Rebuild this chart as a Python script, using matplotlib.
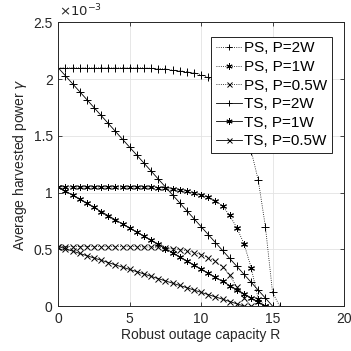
import matplotlib
matplotlib.use("Agg")
import matplotlib.pyplot as plt
import numpy as np

plt.rcParams['font.family'] = ['Liberation Sans', 'DejaVu Sans']

# robust outage capacity grid (step 0.5) and harvested power (x1e-3)
r_ps2 = np.arange(0, 15.51, 0.5)
ps_2w = [2.10, 2.10, 2.10, 2.10, 2.10, 2.10, 2.10, 2.10, 2.10, 2.10, 2.10, 2.10, 2.10,
         2.097, 2.094, 2.09, 2.08, 2.075, 2.065, 2.055, 2.04, 2.015, 1.97, 1.91, 1.83,
         1.71, 1.56, 1.37, 1.11, 0.70, 0.12, 0.0]

r_ps1 = np.arange(0, 14.51, 0.5)
ps_1w = [1.05] * 14 + [1.045, 1.04, 1.03, 1.02, 1.01, 0.995, 0.98, 0.96, 0.93, 0.88,
                       0.80, 0.69, 0.55, 0.34, 0.06, 0.0]

r_ps05 = np.arange(0, 13.51, 0.5)
ps_05w = [0.525] * 11 + [0.524, 0.522, 0.52, 0.517, 0.513, 0.507, 0.498, 0.487, 0.472,
                         0.453, 0.428, 0.393, 0.345, 0.27, 0.17, 0.07, 0.0]

r_ts2 = np.arange(0, 15.01, 0.5)
ts_2w = [2.10, 2.03, 1.96, 1.89, 1.82, 1.75, 1.68, 1.61, 1.54, 1.47, 1.40, 1.33, 1.26,
         1.19, 1.12, 1.05, 0.98, 0.91, 0.84, 0.77, 0.70, 0.63, 0.56, 0.49, 0.42, 0.35,
         0.28, 0.21, 0.14, 0.07, 0.00]

r_ts1 = np.arange(0, 14.51, 0.5)
ts_1w = [1.050, 1.014, 0.978, 0.941, 0.905, 0.869, 0.833, 0.797, 0.760, 0.724, 0.688,
         0.652, 0.616, 0.579, 0.543, 0.507, 0.471, 0.434, 0.398, 0.362, 0.326, 0.290,
         0.253, 0.217, 0.181, 0.145, 0.109, 0.072, 0.036, 0.000]

r_ts05 = np.arange(0, 13.01, 0.5)
ts_05w = [0.525, 0.505, 0.485, 0.464, 0.444, 0.424, 0.404, 0.384, 0.363, 0.343, 0.323,
          0.303, 0.283, 0.262, 0.242, 0.222, 0.202, 0.182, 0.162, 0.141, 0.121, 0.101,
          0.081, 0.061, 0.040, 0.020, 0.000]

labels = ["PS, P=2W", "PS, P=1W", "PS, P=0.5W", "TS, P=2W", "TS, P=1W", "TS, P=0.5W"]

asterisk = (6, 2, 0)
series = [
    (r_ps2, ps_2w, ':', '+', 5.5),
    (r_ps1, ps_1w, ':', asterisk, 5),
    (r_ps05, ps_05w, ':', 'x', 4),
    (r_ts2, ts_2w, '-', '+', 5.5),
    (r_ts1, ts_1w, '-', asterisk, 5),
    (r_ts05, ts_05w, '-', 'x', 4),
]

fig = plt.figure(figsize=(3.51, 3.51), dpi=100)
ax = fig.add_axes([0.166, 0.128, 0.814, 0.808])

tick_col = '#262626'
for (r, v, ls, m, ms), lab in zip(series, labels):
    ax.plot(r, np.array(v) * 1e-3, linestyle=ls, marker=m, color='black',
            linewidth=0.6, markersize=ms, markeredgewidth=0.7, label=lab)

ax.set_xlim(0, 20)
ax.set_ylim(0, 2.5e-3)
ax.set_xticks([0, 5, 10, 15, 20])
ax.set_yticks(np.arange(0, 2.51e-3, 0.5e-3))
ax.set_yticklabels(['0', '0.5', '1', '1.5', '2', '2.5'])
ax.grid(True, color='#e3e3e3', linewidth=0.6)
ax.set_axisbelow(True)
ax.tick_params(direction='in', top=True, right=True, length=3, width=0.6,
               labelsize=10, colors=tick_col, pad=4)
for s in ax.spines.values():
    s.set_linewidth(0.7)
    s.set_color(tick_col)

ax.set_xlabel("Robust outage capacity R", fontsize=10, color=tick_col, labelpad=2)
ax.set_ylabel(r"Average harvested power $\gamma$", fontsize=10, color=tick_col, labelpad=3)
fig.text(0.168, 0.945, r"$\times10^{-3}$", fontsize=9.5, color=tick_col,
         ha='left', va='bottom')

leg = ax.legend(loc='upper right', bbox_to_anchor=(0.945, 0.895),
                bbox_transform=fig.transFigure, fontsize=11,
                frameon=True, fancybox=False, edgecolor='black', framealpha=1,
                handlelength=1.7, handletextpad=0.15, borderpad=0.3,
                labelspacing=0.3, borderaxespad=0, markerscale=0.9)
leg.get_frame().set_linewidth(0.6)

fig.savefig("out.png", dpi=100)
